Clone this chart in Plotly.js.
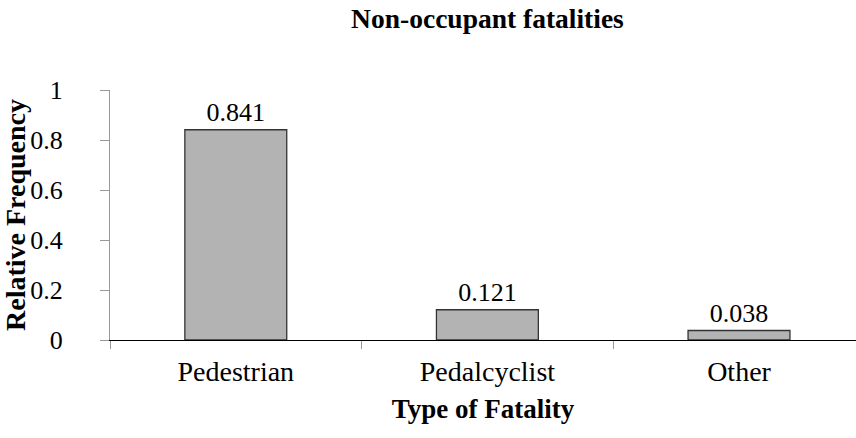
<!DOCTYPE html>
<html>
<head>
<meta charset="utf-8">
<script src="https://cdn.plot.ly/plotly-3.0.1.min.js"></script>
<style>html,body{margin:0;padding:0;background:#fff;}#chart{width:856px;height:438px;}</style>
</head>
<body>
<div id="chart"></div>
<script>
const categories = ["Pedestrian", "Pedalcyclist", "Other"];
const values = [0.841, 0.121, 0.038];
const valueLabels = ["0.841", "0.121", "0.038"];
const yTickVals = [0, 0.2, 0.4, 0.6, 0.8, 1];
const yTickText = ["0", "0.2", "0.4", "0.6", "0.8", "1"];

const FONT = "Liberation Serif";

const trace = {
  type: "bar",
  x: categories,
  y: values,
  text: valueLabels,
  textposition: "outside",
  cliponaxis: false,
  textfont: {family: FONT, size: 26, color: "#000"},
  width: 0.405,
  marker: {color: "#b3b3b3", line: {color: "#333333", width: 1.3}},
  hoverinfo: "none"
};

const layout = {
  width: 856, height: 438,
  margin: {l: 110, r: 0, t: 90, b: 98},
  paper_bgcolor: "#fff", plot_bgcolor: "#fff",
  font: {family: FONT, size: 26, color: "#000"},
  showlegend: false,
  title: {
    text: "<b>Non-occupant fatalities</b>",
    font: {family: FONT, size: 27.5, color: "#000"},
    x: 0.506, xref: "paper", xanchor: "center",
    y: 0.959, yref: "container", yanchor: "middle"
  },
  xaxis: {
    type: "category",
    range: [-0.5, 2.465],
    showline: true, linecolor: "#000", linewidth: 1.3,
    ticks: "outside", tickson: "boundaries", ticklen: 8, tickcolor: "#999", tickwidth: 1,
    ticklabelstandoff: 6,
    showgrid: false, zeroline: false,
    tickfont: {family: FONT, size: 28, color: "#000"},
    title: {text: "<b>Type of Fatality</b>", font: {family: FONT, size: 27, color: "#000"}, standoff: 13}
  },
  yaxis: {
    range: [0, 1],
    tickvals: yTickVals, ticktext: yTickText,
    showline: true, linecolor: "#999", linewidth: 1,
    ticks: "outside", ticklen: 9, tickcolor: "#999", tickwidth: 1,
    ticklabelposition: "outside",
    ticklabelstandoff: 32,
    showgrid: false, zeroline: false,
    tickfont: {family: FONT, size: 26, color: "#000"},
    title: {text: "<b>Relative Frequency</b>", font: {family: FONT, size: 28, color: "#000"}, standoff: 0}
  }
};

Plotly.newPlot("chart", [trace], layout, {displayModeBar: false, staticPlot: true});
</script>
</body>
</html>
